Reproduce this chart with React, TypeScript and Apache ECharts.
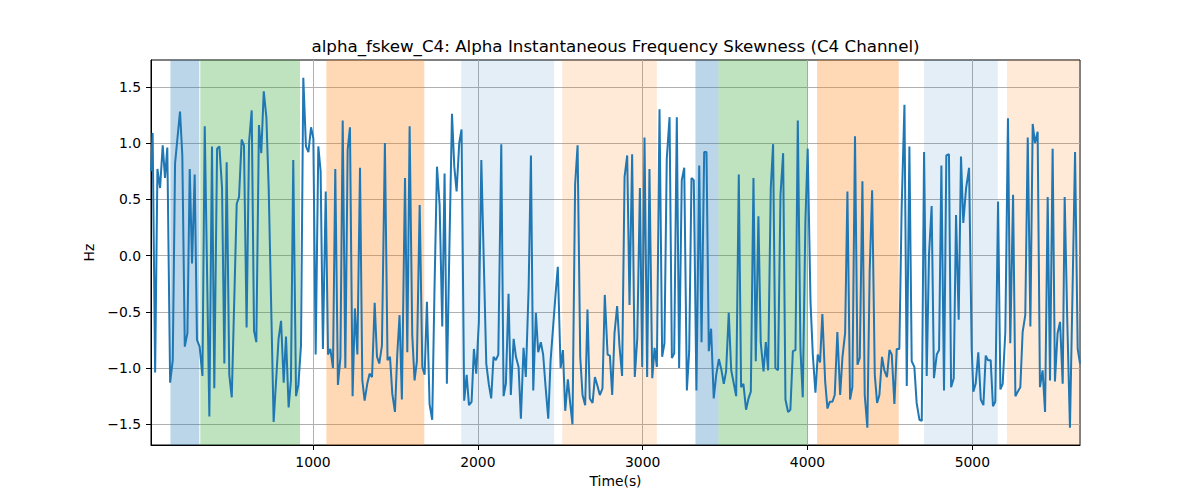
import { useEffect, useRef } from 'react';
import * as echarts from 'echarts';

const TITLE = 'alpha_fskew_C4: Alpha Instantaneous Frequency Skewness (C4 Channel)';

// sample times (s) and skewness values (Hz)
const times = [
  17, 27, 42, 56, 72, 88, 102, 116, 133, 149, 163, 193, 207, 222, 238, 252, 266, 282, 296, 312,
  329, 343, 371, 387, 401, 418, 432, 448, 462, 476, 492, 507, 537, 551, 567, 581, 597, 612, 628, 642,
  656, 672, 686, 701, 717, 731, 761, 791, 806, 822, 836, 852, 866, 880, 897, 911, 927, 941,
  957, 972, 988, 1002, 1016, 1032, 1046, 1060, 1077, 1091, 1105, 1121, 1135, 1151, 1166, 1180, 1196, 1210,
  1224, 1240, 1254, 1269, 1285, 1299, 1313, 1329, 1343, 1358, 1374, 1388, 1402, 1418, 1436, 1452, 1467, 1481,
  1497, 1511, 1525, 1539, 1558, 1572, 1586, 1602, 1616, 1630, 1647, 1663, 1677, 1691, 1707, 1723, 1737, 1752,
  1768, 1784, 1798, 1812, 1828, 1843, 1857, 1871, 1887, 1901, 1917, 1932, 1946,
  1962, 1976, 1990, 2006, 2021, 2051, 2067, 2081, 2095, 2109, 2124, 2142, 2156, 2170, 2186, 2200, 2217, 2231,
  2247, 2261, 2277, 2291, 2308, 2322, 2336, 2352, 2366, 2382, 2396, 2411, 2427, 2441, 2471, 2485, 2502, 2516,
  2530, 2546, 2560, 2574, 2590, 2605, 2621, 2635, 2651, 2665, 2679, 2696, 2710, 2724, 2740, 2756, 2770, 2787,
  2801, 2815, 2829, 2845, 2859, 2875, 2890, 2906, 2920,
  2936, 2952, 2967, 2983, 2997, 3011, 3027, 3041, 3058, 3072, 3086, 3102, 3118, 3132, 3146, 3163, 3177, 3191,
  3207, 3221, 3237, 3252, 3268, 3282, 3296, 3310, 3326, 3343, 3357, 3373, 3387, 3401, 3415, 3431, 3446, 3462,
  3478, 3492, 3506, 3522, 3537, 3553, 3567, 3583, 3597, 3611, 3627, 3642, 3656, 3672, 3686, 3702, 3716, 3733,
  3747, 3761, 3777, 3791, 3805, 3821, 3836, 3852, 3866, 3882,
  3896, 3911, 3927, 3941, 3957, 3971, 3987, 4001, 4018, 4032, 4048, 4062, 4076, 4090, 4107, 4121, 4135, 4151,
  4165, 4181, 4198, 4212, 4228, 4242, 4258, 4272, 4288, 4303, 4317, 4333, 4347, 4363, 4377, 4392, 4408, 4422,
  4436, 4452, 4466, 4482, 4497, 4511, 4527, 4541, 4557, 4571, 4588, 4602, 4618, 4632, 4648, 4662, 4679, 4693,
  4707, 4723, 4737, 4753, 4767, 4784, 4798, 4812, 4828, 4842, 4858,
  4871, 4887, 4901, 4917, 4931, 4945, 4962, 4980, 4996, 5006, 5020, 5036, 5051, 5067, 5081, 5095, 5111, 5125,
  5139, 5156, 5170, 5184, 5200, 5216, 5230, 5247, 5261, 5275, 5291, 5305, 5321, 5336, 5352, 5366, 5380, 5396,
  5410, 5426, 5441, 5457, 5471, 5487, 5501, 5517, 5532, 5548, 5560, 5576, 5592, 5608, 5623, 5639, 5653,
];

const values = [
  0.75, 1.09, -1.04, 0.77, 0.6, 0.98, 0.69, 0.96, -1.13, -0.93, 0.82, 1.28, 0.89, -0.81, -0.69, 0.77, -0.07, 0.72, -0.75, -0.81,
  -1.07, 1.15, -1.43, 0.97, -1.18, 0.95, 0.97, 0.6, -0.96, 0.83, -1.06, -1.26, 0.46, 0.52, 1.03, 0.98, -0.64, 1.01, 1.29, -0.67,
  -0.77, 1.16, 0.91, 1.46, 1.23, 0.6, -1.48, -0.74, -0.58, -1.13, -0.72, -1.35, -1.11, 0.85, -1.25, -1.15, -0.8, 1.58,
  0.97, 0.92, 1.14, 1.04, -0.88, 0.97, 0.75, -0.83, 0.57, -0.88, -0.83, -1.0, 0.77, -1.15, -0.91, 1.2, -1.0, 0.94,
  1.14, -1.25, -0.47, -0.88, 0.78, -1.11, -1.29, -1.14, -1.05, -1.08, -0.42, -0.9, -0.96, -0.8, 1.0, -0.93, -0.9, -1.23,
  -1.39, -0.88, -0.53, -1.28, 0.69, -0.86, 1.15, -0.71, -1.11, -0.94, 0.45, -0.99, -1.06, -0.41, -1.32, -1.46, -0.29, 0.79,
  0.45, -0.63, 0.73, -1.14, 0.12, 1.26, 0.79, 0.57, 1.0, 1.12, -1.29, -1.06, -1.33,
  -1.3, -0.83, -1.05, -0.59, 0.85, -0.96, -1.15, -1.27, -0.9, -0.93, -0.88, 0.99, -1.25, -1.14, -0.34, -1.24, -0.74, -0.9,
  -0.99, -1.45, -0.82, -1.08, -0.29, 0.89, -1.2, -0.51, -0.86, -0.77, -0.88, -1.17, -1.45, -0.94, -0.35, -0.1, -1.0, -0.84,
  -1.38, -1.1, -1.31, -1.5, 0.63, 0.98, -0.9, -1.24, -1.33, -0.48, -1.27, -1.31, -1.08, -1.15, -1.24, -1.18, -0.35, -0.88,
  -0.89, -1.24, -0.69, -0.45, -0.8, -1.07, 0.7, 0.89, -0.44,
  0.9, -1.08, -0.74, 0.6, -0.99, 1.05, -1.08, 0.77, -1.09, -0.82, -0.99, 1.3, -0.9, -0.78, 0.86, 1.23, -0.91, -0.87,
  1.23, -1.0, 0.67, 0.78, -1.2, -0.85, 0.69, 0.67, -1.2, 0.8, -0.77, 0.92, 0.92, -0.85, -0.65, -1.27, -1.06, -0.92,
  -1.02, -1.14, -1.03, -0.51, -1.02, -1.14, -1.25, 0.72, -1.17, -1.14, -1.37, -1.27, -1.21, 0.69, -0.94, 0.35, -0.77, -1.03,
  -0.77, -1.02, 0.6, 0.99, -1.0, -1.02, 0.54, 0.91, -1.28, -1.39,
  -1.37, -0.85, -0.84, 1.2, -0.83, -1.26, 0.3, 0.95, -0.41, -0.88, -1.22, -0.88, -0.95, -0.52, -1.12, -1.36, -1.3, -1.3,
  -1.24, -0.68, -1.24, -0.9, -0.69, 0.57, -1.28, -1.17, 1.06, -0.97, -0.91, 0.66, -1.24, -1.53, -0.14, 0.58, -1.06, -1.31,
  -1.24, -0.9, -1.02, -1.08, -0.84, -0.88, -1.32, -0.83, -0.83, 0.42, 1.34, -1.16, 0.97, -0.94, -0.99, -1.31, -1.46, -1.47,
  0.92, -1.07, 0.01, 0.44, -1.09, -0.88, -0.84, 0.8, -1.2, 0.89, 0.9,
  -1.17, -1.09, 0.36, -0.57, 0.88, 0.29, 0.6, 0.78, -0.83, -1.21, -1.14, -0.86, -1.28, -1.33, -0.89, -0.93, -0.93, -1.34,
  -1.3, 0.48, -1.19, -1.14, -0.68, 1.22, -0.78, 0.54, -1.25, -1.21, -1.17, -0.68, -0.53, 1.05, -0.63, 1.17, 1.0, 1.1,
  -1.17, -1.02, -1.39, 0.52, -1.11, 0.95, -1.12, -0.69, -0.59, -1.14, 0.52, -0.59, -1.53, -0.29, 0.92, -0.83, -0.96,
];

// shaded time spans
const spanStarts = [135, 316, 1081, 1899, 2512, 3320, 3460, 4058, 4707, 5210];
const spanEnds = [310, 921, 1675, 2463, 3086, 3460, 3999, 4553, 5154, 5653];
const spanKinds = ['blue', 'green', 'orange', 'paleBlue', 'paleOrange', 'blue', 'green', 'orange', 'paleBlue', 'paleOrange'];

const xTicks = [1000, 2000, 3000, 4000, 5000];
const yTicks = [-1.5, -1, -0.5, 0, 0.5, 1, 1.5];

const spanColors: Record<string, string> = {
  blue: 'rgba(31,119,180,0.3)',
  green: 'rgba(44,160,44,0.3)',
  orange: 'rgba(255,127,14,0.3)',
  paleBlue: 'rgba(31,119,180,0.12)',
  paleOrange: 'rgba(255,127,14,0.16)',
};

const FONT = 'DejaVu Sans';

export default function App() {
  const chartRef = useRef<HTMLDivElement>(null);

  useEffect(() => {
    if (!chartRef.current) return;
    const chart = echarts.init(chartRef.current, null, { renderer: 'svg' });
    const points = times.map((t, i) => [t, values[i]]);
    const areas = spanStarts.map((s, i) => [
      { xAxis: s, itemStyle: { color: spanColors[spanKinds[i]] } },
      { xAxis: spanEnds[i] },
    ]);

    chart.setOption({
      animation: false,
      backgroundColor: '#fff',
      textStyle: { fontFamily: FONT },
      grid: { left: 151, right: 120, top: 60, bottom: 55, show: true, borderColor: '#000', borderWidth: 1, backgroundColor: 'transparent' },
      graphic: [
        {
          type: 'text',
          x: 615.5,
          y: 46,
          style: { text: TITLE, fontFamily: FONT, fontSize: 16.7, fill: '#000', textAlign: 'center', textVerticalAlign: 'middle' },
        },
      ],
      xAxis: {
        type: 'value',
        min: 17,
        max: 5653,
        name: 'Time(s)',
        nameLocation: 'middle',
        nameGap: 29,
        nameTextStyle: { color: '#000', fontSize: 13.9, fontFamily: FONT },
        axisLine: { show: true, onZero: false, lineStyle: { color: '#000', width: 1 } },
        axisTick: { show: true, length: 5, lineStyle: { color: '#000' }, customValues: xTicks },
        axisLabel: { color: '#000', fontSize: 13.9, fontFamily: FONT, margin: 10, customValues: xTicks, formatter: (v: number) => String(v) },
        splitLine: { show: true, lineStyle: { color: '#b0b0b0', width: 1 } },
      },
      yAxis: {
        type: 'value',
        min: -1.684,
        max: 1.738,
        name: 'Hz',
        nameLocation: 'middle',
        nameGap: 51,
        nameTextStyle: { color: '#000', fontSize: 13.9, fontFamily: FONT },
        axisLine: { show: true, onZero: false, lineStyle: { color: '#000', width: 1 } },
        axisTick: { show: true, length: 5, lineStyle: { color: '#000' }, customValues: yTicks },
        axisLabel: {
          color: '#000',
          fontSize: 13.9,
          fontFamily: FONT,
          margin: 10,
          customValues: yTicks,
          formatter: (v: number) => v.toFixed(1).replace('-', '\u2212'),
        },
        splitLine: { show: true, lineStyle: { color: '#b0b0b0', width: 1 } },
      },
      series: [
        {
          type: 'line',
          data: points,
          showSymbol: false,
          lineStyle: { color: '#1f77b4', width: 2 },
          itemStyle: { color: '#1f77b4' },
          z: 3,
          markArea: { silent: true, label: { show: false }, data: areas },
        },
      ],
    });

    return () => chart.dispose();
  }, []);

  return <div ref={chartRef} style={{ position: 'fixed', left: 0, top: 0, width: 1200, height: 500 }} />;
}
